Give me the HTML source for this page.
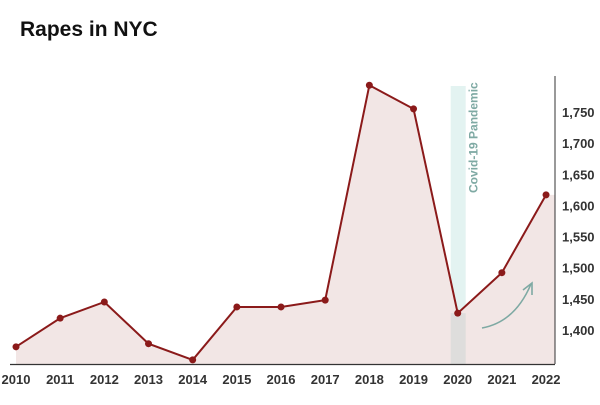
<!DOCTYPE html>
<html><head><meta charset="utf-8"><style>
body{margin:0;width:600px;height:400px;background:#fff;overflow:hidden;font-family:"Liberation Sans",Arial,sans-serif}
</style></head><body>
<svg width="600" height="400">
<text x="20" y="36" font-size="21" font-weight="bold" fill="#111">Rapes in NYC</text>
<g id="band"></g>
<g id="plot"></g>
<g id="axes"></g>
</svg>
<script>
const years=[2010,2011,2012,2013,2014,2015,2016,2017,2018,2019,2020,2021,2022];
const values=[1373,1419,1445,1378,1352,1437,1437,1448,1793,1755,1427,1492,1617];
const yTicks=[1400,1450,1500,1550,1600,1650,1700,1750];
const NS="http://www.w3.org/2000/svg";
const x=i=>16+i*44.17;
const y=v=>330-(v-1400)*31.14/50;
const base=364;
function mk(t,a,p){const e=document.createElementNS(NS,t);for(const k in a)e.setAttribute(k,a[k]);p.appendChild(e);return e;}
const band=document.getElementById('band'),plot=document.getElementById('plot'),axes=document.getElementById('axes');
const ci=years.indexOf(2020);
const b=mk('rect',{x:x(ci)-7,y:86,width:15,height:base-86,fill:'#e3f3f1'},band);


const bt=mk('text',{x:0,y:0,transform:`translate(${x(ci)+20},193) rotate(-90)`,'font-size':12,'font-weight':'bold',fill:'#7ea9a3'},band);
bt.textContent='Covid-19 Pandemic';


let pts=values.map((v,i)=>x(i)+','+y(v)).join(' ');
const area=mk('polygon',{points:`${x(0)},${base} ${pts} 555,${y(values[values.length-1])} 555,${base}`,fill:'#f2e6e5'},plot);


const ov=mk('rect',{x:x(ci)-7,y:y(values[ci]),width:15,height:base-y(values[ci]),fill:'#dedddc'},plot);


const ln=mk('polyline',{points:pts,fill:'none',stroke:'#8b1a1a','stroke-width':2},plot);


values.forEach((v,i)=>{const c=mk('circle',{cx:x(i),cy:y(v),r:3.5,fill:'#8b1a1a'},plot);

});
const ar=mk('path',{d:'M482,328 Q515,322 531,284',fill:'none',stroke:'#7ea9a3','stroke-width':1.6},plot);


const ah=mk('path',{d:'M523,290 L532,283 L532,295',fill:'none',stroke:'#7ea9a3','stroke-width':1.6},plot);


const ya=mk('line',{x1:555,y1:76,x2:555,y2:base,stroke:'#333','stroke-width':1},axes);


const xa=mk('line',{x1:10,y1:base+0.5,x2:555,y2:base+0.5,stroke:'#333','stroke-width':1.2},axes);


yTicks.forEach(t=>{const e=mk('text',{x:562,y:y(t)+5,'font-size':13,'font-weight':'bold',fill:'#333'},axes);e.textContent=t.toLocaleString('en-US');

});
years.forEach((yr,i)=>{const e=mk('text',{x:x(i),y:384,'font-size':13,'font-weight':'bold',fill:'#333','text-anchor':'middle'},axes);e.textContent=yr;

});
</script>
</body></html>
